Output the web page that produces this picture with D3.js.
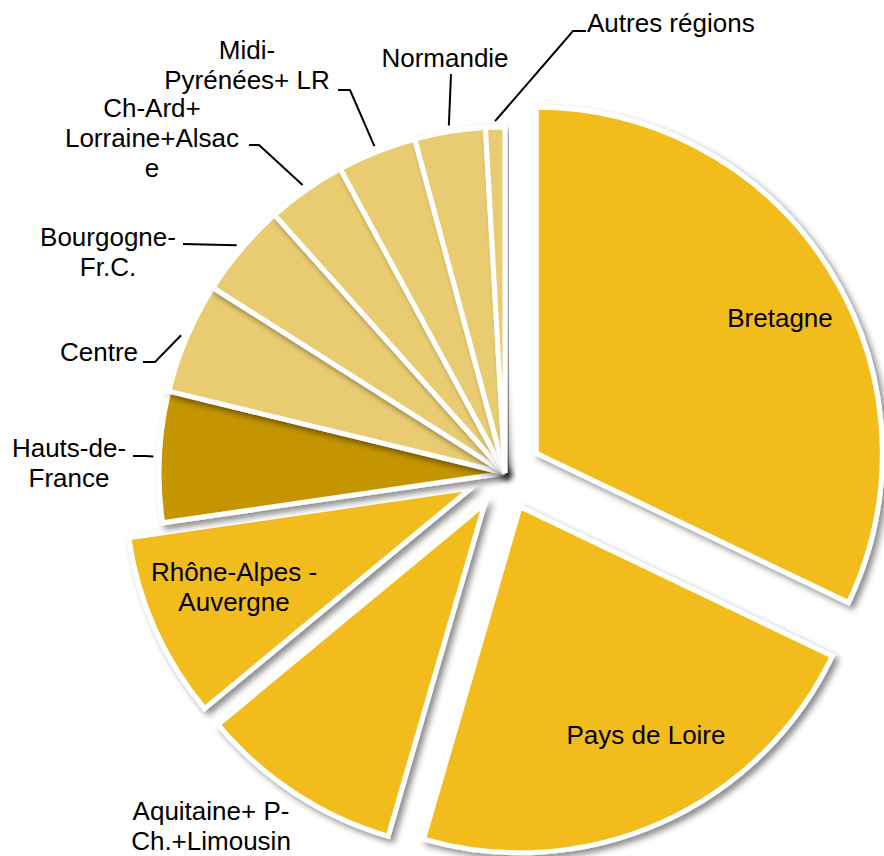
<!DOCTYPE html>
<html>
<head>
<meta charset="utf-8">
<script src="https://cdn.jsdelivr.net/npm/d3@7"></script>
<style>
html,body{margin:0;padding:0;background:#fff;}
svg{display:block;}
text{font-family:"Liberation Sans",Arial,Helvetica,sans-serif;font-size:26px;fill:#000;}
</style>
</head>
<body>
<svg id="chart" width="884" height="856"></svg>
<script>
// ---- data ----
const categories = ["Bretagne","Pays de Loire","Aquitaine+ P-Ch.+Limousin","Rhône-Alpes - Auvergne","Hauts-de-France","Centre","Bourgogne-Fr.C.","Ch-Ard+ Lorraine+Alsace","Midi-Pyrénées+ LR","Normandie","Autres régions"];
const values = [32.1,22.4,9.5,8.7,6.1,5.2,4.4,3.7,3.7,3.3,0.9];
const labelLines = [["Bretagne"],["Pays de Loire"],["Aquitaine+ P-","Ch.+Limousin"],["Rhône-Alpes -","Auvergne"],["Hauts-de-","France"],["Centre"],["Bourgogne-","Fr.C."],["Ch-Ard+","Lorraine+Alsac","e"],["Midi-","Pyrénées+ LR"],["Normandie"],["Autres régions"]];
const explodedCategories = ["Bretagne","Pays de Loire","Aquitaine+ P-Ch.+Limousin","Rhône-Alpes - Auvergne"];
const colorGroup = ["main","main","main","main","dark","light","light","light","light","light","light"];

// ---- layout / style ----
const W = 884, H = 856;
const cx = 505, cy = 473, R = 346, explode = 37;
const palette = {main:"#F1BC1E", dark:"#C59500", light:"#E9CC72"};
// label layout: x, first baseline y, anchor, leader polyline after the arc point
const labelLayout = [
  {x:780, y:327, anchor:"middle"},
  {x:646, y:744, anchor:"middle"},
  {x:211, y:820, anchor:"middle"},
  {x:234, y:581, anchor:"middle"},
  {x:69,  y:457, anchor:"middle", leader:[[145,456],[133,456]]},
  {x:99,  y:361, anchor:"middle", leader:[[155,362],[143,362]]},
  {x:108, y:246, anchor:"middle", leader:[[183,244]]},
  {x:152, y:117, anchor:"middle", leader:[[259,145],[249,145]]},
  {x:247, y:59,  anchor:"middle", leader:[[350,90],[338,90]]},
  {x:445, y:67,  anchor:"middle", leader:[[451,74]]},
  {x:587, y:32,  anchor:"start",  leader:[[573,31],[586,31]]}
];
const lineHeight = 30;

const svg = d3.select("#chart");
const defs = svg.append("defs");
const f = defs.append("filter").attr("id","shadow")
  .attr("x","-20%").attr("y","-20%").attr("width","140%").attr("height","140%");
f.append("feDropShadow").attr("dx",4).attr("dy",4).attr("stdDeviation",3)
  .attr("flood-color","#000").attr("flood-opacity",0.45);

const data = categories.map((c,i)=>({name:c, value:values[i], i}));
const pie = d3.pie().value(d=>d.value).sort(null).startAngle(0).endAngle(2*Math.PI);
const arcs = pie(data);
const arc = d3.arc().innerRadius(0).outerRadius(R);

const g = svg.append("g").attr("transform",`translate(${cx},${cy})`);

function offset(d){
  if(!explodedCategories.includes(d.data.name)) return [0,0];
  const m = (d.startAngle + d.endAngle)/2;
  return [explode*Math.sin(m), -explode*Math.cos(m)];
}

g.selectAll("path.slice").data(arcs).join("path")
  .attr("class","slice")
  .attr("d",arc)
  .attr("transform",d=>{const o=offset(d);return `translate(${o[0]},${o[1]})`;})
  .attr("fill",d=>palette[colorGroup[d.data.i]])
  .attr("stroke","#fff")
  .attr("stroke-width",5)
  .attr("stroke-linejoin","miter")
  .attr("filter","url(#shadow)");

// leader lines
const leaderR = 352;
arcs.forEach(d=>{
  const L = labelLayout[d.data.i];
  if(!L.leader) return;
  const m = (d.startAngle + d.endAngle)/2;
  const p0 = [cx + leaderR*Math.sin(m), cy - leaderR*Math.cos(m)];
  const pts = [p0].concat(L.leader);
  svg.append("path")
    .attr("d", d3.line()(pts))
    .attr("fill","none").attr("stroke","#000").attr("stroke-width",2);
});

// labels
arcs.forEach(d=>{
  const L = labelLayout[d.data.i];
  const t = svg.append("text").attr("text-anchor",L.anchor);
  labelLines[d.data.i].forEach((ln,k)=>{
    t.append("tspan").attr("x",L.x).attr("y",L.y + k*lineHeight).text(ln);
  });
});
</script>
</body>
</html>
